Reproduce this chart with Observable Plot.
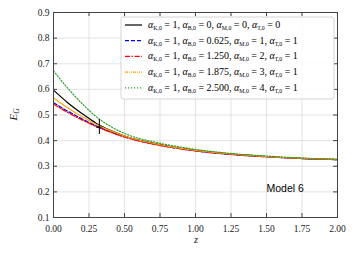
<!DOCTYPE html>
<html>
<head>
<meta charset="utf-8">
<script src="https://cdn.jsdelivr.net/npm/d3@7"></script>
<script src="https://cdn.jsdelivr.net/npm/@observablehq/plot@0.6"></script>
<style>
  html, body { margin: 0; padding: 0; background: #fff; }
  #chart svg { display: block; }
</style>
</head>
<body>
<div id="chart"></div>
<script>
const zValues = [0, 0.1, 0.2, 0.3, 0.4, 0.5, 0.75, 1.0, 1.25, 1.5, 1.75, 2.0];
const eBlack  = [0.597, 0.548, 0.506, 0.468, 0.440, 0.418, 0.385, 0.362, 0.348, 0.338, 0.331, 0.326];
const eBlue   = [0.548, 0.515, 0.485, 0.458, 0.435, 0.415, 0.382, 0.360, 0.346, 0.337, 0.330, 0.326];
const eRed    = [0.542, 0.510, 0.481, 0.455, 0.433, 0.414, 0.381, 0.360, 0.346, 0.337, 0.330, 0.326];
const eOrange = [0.567, 0.528, 0.494, 0.464, 0.439, 0.418, 0.384, 0.362, 0.348, 0.338, 0.331, 0.327];
const eGreen  = [0.672, 0.605, 0.545, 0.494, 0.456, 0.428, 0.390, 0.366, 0.350, 0.340, 0.332, 0.327];

const seriesNames = ["black", "blue", "red", "orange", "green"];
const seriesValues = [eBlack, eBlue, eRed, eOrange, eGreen];
const seriesColors = ["#000000", "#0000ff", "#ff0000", "#ffa500", "#2ca02c"];
const seriesDash = [null, "4,2", "5,1.6,1.4,1.6", "3,1,1,1,1,1", "1.2,1.8"];
const legendParams = [
  ["1", "0", "0", "0"],
  ["1", "0.625", "1", "1"],
  ["1", "1.250", "2", "1"],
  ["1", "1.875", "3", "1"],
  ["1", "2.500", "4", "1"]
];

const obsZ = [0.323];
const obsE = [0.452];
const obsELow = [0.424];
const obsEHigh = [0.482];
const obsZLow = [0.305];
const obsZHigh = [0.342];

const xTicks = [0, 0.25, 0.5, 0.75, 1.0, 1.25, 1.5, 1.75, 2.0];
const yTicks = [0.1, 0.2, 0.3, 0.4, 0.5, 0.6, 0.7, 0.8, 0.9];

const W = 354, H = 253;
const mL = 53, mR = 17, mT = 12, mB = 36;
const innerW = W - mL - mR, innerH = H - mT - mB;

const rows = [];
seriesNames.forEach((s, i) => zValues.forEach((z, j) => rows.push({series: s, z, e: seriesValues[i][j]})));
const obs = obsZ.map((z, i) => ({z, e: obsE[i], lo: obsELow[i], hi: obsEHigh[i], zlo: obsZLow[i], zhi: obsZHigh[i]}));

const serif = "'Liberation Serif', 'DejaVu Serif', serif";
const tickLen = 4;

const lineMarks = seriesNames.map((s, i) => Plot.line(rows.filter(r => r.series === s), {
  x: "z", y: "e", stroke: seriesColors[i], strokeWidth: 1.2,
  strokeDasharray: seriesDash[i] || undefined, curve: "monotone-x"
}));

const plot = Plot.plot({
  width: W, height: H,
  marginLeft: mL, marginRight: mR, marginTop: mT, marginBottom: mB,
  style: {fontFamily: serif, fontSize: "9px", background: "#fff", color: "#222"},
  x: {domain: [0, 2], ticks: xTicks, tickFormat: d3.format(".2f"), label: null},
  y: {domain: [0.1, 0.9], ticks: yTicks, tickFormat: d3.format(".1f"), label: null},
  marks: [
    Plot.gridX(xTicks, {stroke: "#dcdcdc", strokeOpacity: 1, strokeWidth: 0.8}),
    Plot.gridY(yTicks, {stroke: "#dcdcdc", strokeOpacity: 1, strokeWidth: 0.8}),
    ...lineMarks,
    Plot.ruleX(obs, {x: "z", y1: "lo", y2: "hi", stroke: "#000", strokeWidth: 1}),
    Plot.ruleY(obs, {y: "e", x1: "zlo", x2: "zhi", stroke: "#000", strokeWidth: 1}),
    Plot.text(["Model 6"], {x: 1.5, y: 0.212, text: d => d, textAnchor: "start", lineAnchor: "middle",
      fontFamily: "'Liberation Sans', Arial, sans-serif", fontSize: 10.5, fill: "#000"}),
    Plot.ruleX(xTicks, {x: d => d, insetTop: innerH - tickLen, stroke: "#444"}),
    Plot.ruleX(xTicks, {x: d => d, insetBottom: innerH - tickLen, stroke: "#444"}),
    Plot.ruleY(yTicks, {y: d => d, insetRight: innerW - tickLen, stroke: "#444"}),
    Plot.ruleY(yTicks, {y: d => d, insetLeft: innerW - tickLen, stroke: "#444"}),
    Plot.frame({stroke: "#444", strokeWidth: 1}),
    Plot.axisX(xTicks, {tickSize: 0, tickPadding: 8, fontSize: 9.5, fill: "#222", label: null, tickFormat: d3.format(".2f")}),
    Plot.axisY(yTicks, {tickSize: 0, tickPadding: 4, fontSize: 9.5, fill: "#222", label: null, tickFormat: d3.format(".1f")})
  ]
});

document.getElementById("chart").appendChild(plot);

const svg = d3.select(plot);
const xs = plot.scale("x"), ys = plot.scale("y");

// axis labels
svg.append("text")
  .attr("x", (xs.apply(0) + xs.apply(2)) / 2 + 1).attr("y", 243)
  .attr("text-anchor", "middle").attr("font-family", serif).attr("font-size", 10.5)
  .attr("font-style", "italic").attr("fill", "#222").text("z");

const yl = svg.append("text")
  .attr("transform", `translate(17, ${(ys.apply(0.1) + ys.apply(0.9)) / 2}) rotate(-90)`)
  .attr("text-anchor", "middle").attr("font-family", serif).attr("font-size", 11).attr("fill", "#222");
yl.append("tspan").attr("font-style", "italic").text("E");
yl.append("tspan").attr("font-style", "italic").attr("font-size", 7.5).attr("dy", 2).text("G");

// legend
const lg = svg.append("g").attr("text-anchor", "start");
const bx = 121, by = 17, bw = 213, bh = 82;
lg.append("rect").attr("x", bx).attr("y", by).attr("width", bw).attr("height", bh)
  .attr("rx", 2).attr("fill", "#fff").attr("fill-opacity", 0.85).attr("stroke", "#cccccc").attr("stroke-width", 0.8);
const rowY0 = 25, rowStep = 15.7;
const subs = ["K,0", "B,0", "M,0", "T,0"];
legendParams.forEach((p, i) => {
  const y = rowY0 + i * rowStep;
  lg.append("line").attr("x1", 125).attr("x2", 142).attr("y1", y).attr("y2", y)
    .attr("stroke", seriesColors[i]).attr("stroke-width", 1.2)
    .attr("stroke-dasharray", seriesDash[i] || null);
  const t = lg.append("text").attr("x", 148).attr("y", y + 3).attr("text-anchor", "start")
    .attr("font-family", serif).attr("font-size", 10).attr("fill", "#000");
  p.forEach((v, k) => {
    t.append("tspan").attr("font-style", "italic").text("α");
    t.append("tspan").attr("font-size", 5.8).attr("dy", 2).text(subs[k]);
    t.append("tspan").attr("dy", -2).text(` = ${v}` + (k < 3 ? ", " : ""));
  });
});
</script>
</body>
</html>
